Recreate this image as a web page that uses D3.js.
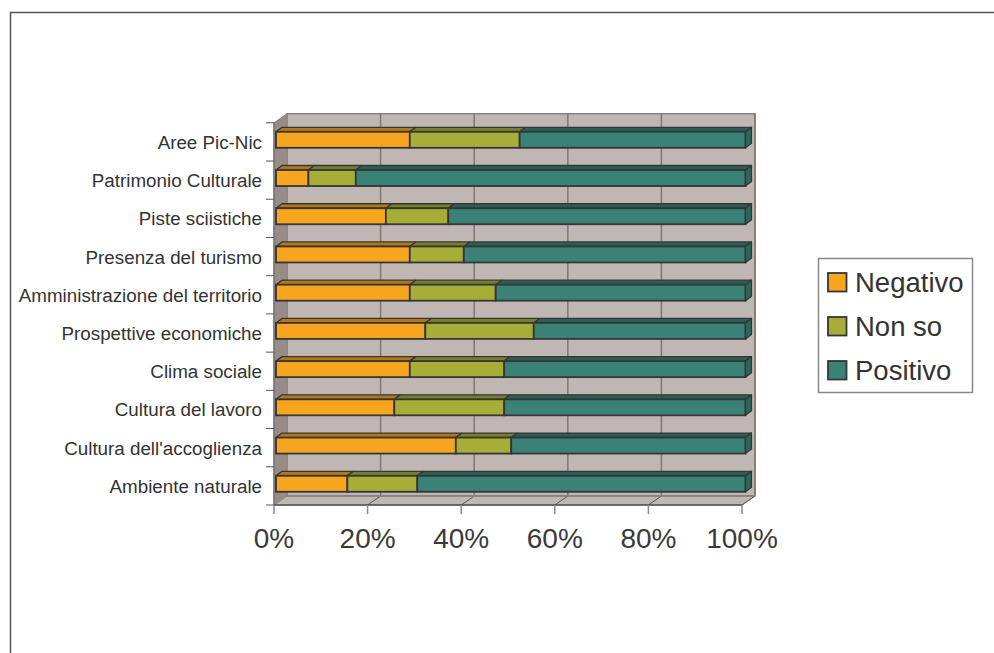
<!DOCTYPE html>
<html>
<head>
<meta charset="utf-8">
<script src="https://cdn.jsdelivr.net/npm/d3@7"></script>
<style>
  html, body { margin: 0; padding: 0; background: #fff; }
  svg { display: block; font-family: "Liberation Sans", Arial, Helvetica, sans-serif; }
</style>
</head>
<body>
<svg id="chart" width="994" height="653"></svg>
<script>
// ---- data (top to bottom as shown) ----
const categories = [
  "Aree Pic-Nic",
  "Patrimonio Culturale",
  "Piste sciistiche",
  "Presenza del turismo",
  "Amministrazione del territorio",
  "Prospettive economiche",
  "Clima sociale",
  "Cultura del lavoro",
  "Cultura dell'accoglienza",
  "Ambiente naturale"
];
const seriesNames = ["Negativo", "Non so", "Positivo"];
const negativo = [28.5, 6.9, 23.4, 28.5, 28.5, 31.8, 28.5, 25.2, 38.3, 15.2];
const nonSo    = [23.4, 10.1, 13.3, 11.5, 18.3, 23.1, 20.1, 23.4, 11.8, 14.9];
const positivo = [48.1, 83.0, 63.3, 60.0, 53.2, 45.1, 51.4, 51.4, 49.9, 69.9];
const tickValues = [0, 20, 40, 60, 80, 100];
const colors = ["#f7a51e", "#a6ae38", "#3a8276"];

// ---- layout ----
const svg = d3.select("#chart");
const DX = 13, DY = -9;          // depth of the 3D walls
const BDX = 6, BDY = -4.5;       // depth of the bars
const x = d3.scaleLinear().domain([0, 100]).range([274, 742]);
const xb = d3.scaleLinear().domain([0, 100]).range([276, 745.5]);
const y = d3.scaleBand().domain(categories).range([122.8, 505]).paddingInner(0).paddingOuter(0);
const barOff = 9, barH = 16;

// outer frame
svg.append("rect").attr("x", 10.5).attr("y", 12.5).attr("width", 1000).attr("height", 700)
  .attr("fill", "none").attr("stroke", "#555").attr("stroke-width", 1.5);

const yTop = y.range()[0], yBot = y.range()[1];
const x0 = x(0), x1 = x(100);
const wallFill = "#c0b7b4", sideFill = "#978c88", edge = "#8a8280";

// back wall
svg.append("path")
  .attr("d", `M${x0+DX},${yTop+DY}L${x1+DX},${yTop+DY}L${x1+DX},${yBot+DY}L${x0+DX},${yBot+DY}Z`)
  .attr("fill", wallFill).attr("stroke", edge).attr("stroke-width", 1.5);
// left wall
svg.append("path")
  .attr("d", `M${x0},${yTop}L${x0+DX},${yTop+DY}L${x0+DX},${yBot+DY}L${x0},${yBot}Z`)
  .attr("fill", sideFill).attr("stroke", edge).attr("stroke-width", 1);
// floor
svg.append("path")
  .attr("d", `M${x0},${yBot}L${x0+DX},${yBot+DY}L${x1+DX},${yBot+DY}L${x1},${yBot}Z`)
  .attr("fill", wallFill).attr("stroke", edge).attr("stroke-width", 1);

// gridlines on back wall and floor
tickValues.slice(1).forEach(v => {
  svg.append("line")
    .attr("x1", x(v)+DX).attr("x2", x(v)+DX).attr("y1", yTop+DY).attr("y2", yBot+DY)
    .attr("stroke", "#7e7876").attr("stroke-width", 1.5);
  svg.append("line")
    .attr("x1", x(v)).attr("x2", x(v)+DX).attr("y1", yBot).attr("y2", yBot+DY)
    .attr("stroke", "#555").attr("stroke-width", 1);
});
// back wall bottom edge
svg.append("line").attr("x1", x0+DX).attr("x2", x1+DX).attr("y1", yBot+DY).attr("y2", yBot+DY)
  .attr("stroke", "#8a8280").attr("stroke-width", 1.5);

// axes lines
svg.append("line").attr("x1", x0).attr("x2", x0).attr("y1", yTop).attr("y2", yBot)
  .attr("stroke", "#777").attr("stroke-width", 1.5);
svg.append("line").attr("x1", x0).attr("x2", x1).attr("y1", yBot).attr("y2", yBot)
  .attr("stroke", "#555").attr("stroke-width", 1.5);

// category ticks (band boundaries)
const bounds = categories.map(c => y(c)).concat([yBot]);
bounds.forEach(b => {
  svg.append("line").attr("x1", x0-8).attr("x2", x0).attr("y1", b).attr("y2", b)
    .attr("stroke", "#555").attr("stroke-width", 1);
});
// value ticks + labels
tickValues.forEach(v => {
  svg.append("line").attr("x1", x(v)).attr("x2", x(v)).attr("y1", yBot).attr("y2", yBot+9)
    .attr("stroke", "#888").attr("stroke-width", 1.5);
  svg.append("text").attr("x", x(v)).attr("y", yBot+43)
    .attr("text-anchor", "middle").attr("font-size", 28).attr("fill", "#3a3a3a")
    .text(v + "%");
});

// category labels
categories.forEach(c => {
  svg.append("text").attr("x", 262).attr("y", y(c) + y.bandwidth()/2 + 7)
    .attr("text-anchor", "end").attr("font-size", 18.8).attr("fill", "#333")
    .text(c);
});

// bars
const stroke = "#363636";
categories.forEach((c, i) => {
  const vals = [negativo[i], nonSo[i], positivo[i]];
  let acc = 0;
  const y0 = y(c) + barOff;
  const g = svg.append("g");
  vals.forEach((v, k) => {
    const a = xb(acc), b = xb(acc + v);
    const col = colors[k];
    // top face
    g.append("path")
      .attr("d", `M${a},${y0}L${a+BDX},${y0+BDY}L${b+BDX},${y0+BDY}L${b},${y0}Z`)
      .attr("fill", d3.color(col).darker(0.9)).attr("stroke", stroke).attr("stroke-width", 1.3)
      .attr("stroke-linejoin", "round");
    // front face
    g.append("rect").attr("x", a).attr("y", y0).attr("width", b - a).attr("height", barH)
      .attr("fill", col).attr("stroke", stroke).attr("stroke-width", 1.8);
    if (k === vals.length - 1) {
      g.append("path")
        .attr("d", `M${b},${y0}L${b+BDX},${y0+BDY}L${b+BDX},${y0+BDY+barH}L${b},${y0+barH}Z`)
        .attr("fill", d3.color(col).darker(0.7)).attr("stroke", stroke).attr("stroke-width", 1.3)
        .attr("stroke-linejoin", "round");
    }
    acc += v;
  });
});

// legend
const lg = svg.append("g");
lg.append("rect").attr("x", 818.5).attr("y", 258.5).attr("width", 154).attr("height", 134)
  .attr("fill", "#fff").attr("stroke", "#888").attr("stroke-width", 1.5);
seriesNames.forEach((s, k) => {
  const yy = 273 + k * 44;
  lg.append("rect").attr("x", 828).attr("y", yy).attr("width", 18.5).attr("height", 18.5)
    .attr("fill", colors[k]).attr("stroke", "#363636").attr("stroke-width", 1.8);
  lg.append("text").attr("x", 855).attr("y", yy + 18.5).attr("font-size", 27.5)
    .attr("fill", "#333").text(s);
});
</script>
</body>
</html>
